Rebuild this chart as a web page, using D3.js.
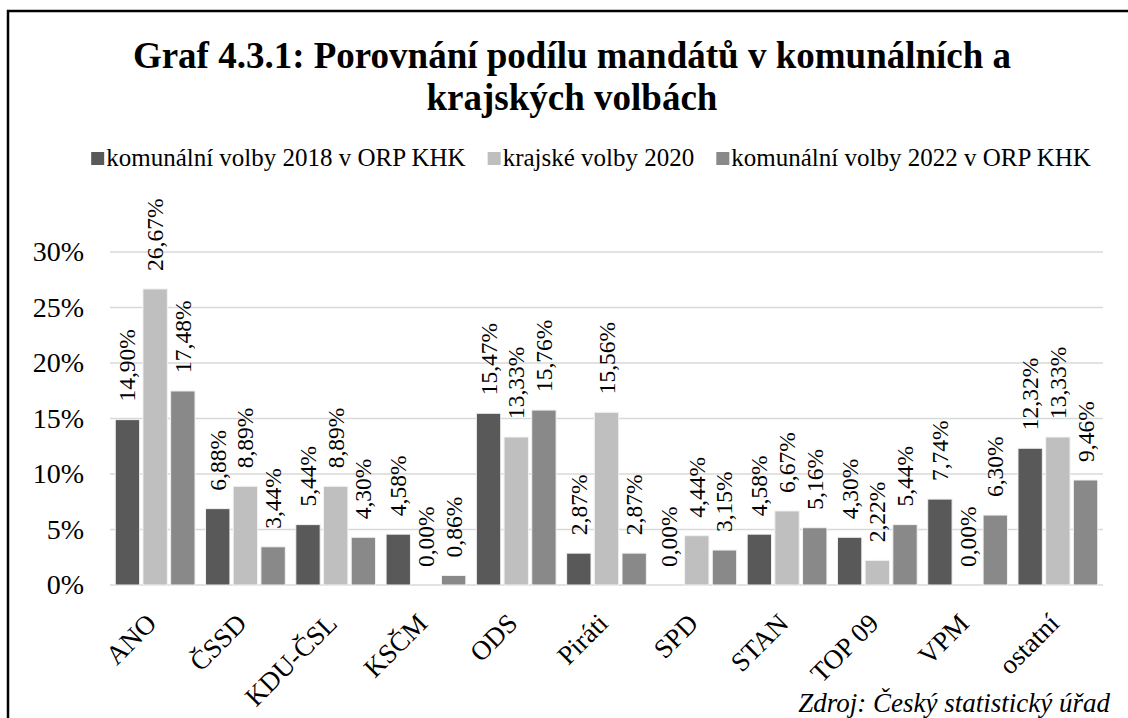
<!DOCTYPE html>
<html>
<head>
<meta charset="utf-8">
<script src="https://cdn.jsdelivr.net/npm/d3@7"></script>
<style>
  body { margin: 0; background: #fff; }
  text { font-family: "Liberation Serif", "Times New Roman", serif; }
</style>
</head>
<body>
<div id="chart"></div>
<script>
// data
const categories = ["ANO", "ČSSD", "KDU-ČSL", "KSČM", "ODS", "Piráti", "SPD", "STAN", "TOP 09", "VPM", "ostatní"];
const seriesNames = ["komunální volby 2018 v ORP KHK", "krajské volby 2020", "komunální volby 2022 v ORP KHK"];
const kom2018 = [14.90, 6.88, 5.44, 4.58, 15.47, 2.87, 0.00, 4.58, 4.30, 7.74, 12.32];
const kraj2020 = [26.67, 8.89, 8.89, 0.00, 13.33, 15.56, 4.44, 6.67, 2.22, 0.00, 13.33];
const kom2022 = [17.48, 3.44, 4.30, 0.86, 15.76, 2.87, 3.15, 5.16, 5.44, 6.30, 9.46];
const yTicks = [0, 5, 10, 15, 20, 25, 30];

const colors = ["#595959", "#bfbfbf", "#898989"];
const seriesValues = [kom2018, kraj2020, kom2022];

const W = 1128, H = 718;
const svg = d3.select("#chart").append("svg").attr("width", W).attr("height", H);

// frame (cut off at right and bottom)
svg.append("rect")
    .attr("x", 8).attr("y", 11)
    .attr("width", W + 20).attr("height", H + 20)
    .attr("fill", "none")
    .attr("stroke", "#000")
    .attr("stroke-width", 2.5);

// title
const title = svg.append("text")
    .attr("text-anchor", "middle")
    .attr("font-weight", "bold")
    .attr("font-size", 37)
    .attr("fill", "#000");
title.append("tspan").attr("x", 572).attr("y", 68).text("Graf 4.3.1: Porovnání podílu mandátů v komunálních a");
title.append("tspan").attr("x", 572).attr("y", 110).text("krajských volbách");

// scales
const x = d3.scaleBand().domain(categories).range([110, 1103]).padding(0);
const xs = d3.scaleBand().domain(d3.range(3)).range([0, x.bandwidth()]).paddingInner(0.12).paddingOuter(0.19);
const y = d3.scaleLinear().domain([0, 30]).range([585, 252]);

// grid
svg.append("g")
    .selectAll("line")
    .data(yTicks)
    .join("line")
    .attr("x1", 110).attr("x2", 1103)
    .attr("y1", d => y(d)).attr("y2", d => y(d))
    .attr("stroke", "#d9d9d9")
    .attr("stroke-width", 1.5);

// y axis labels
const yAxis = d3.axisLeft(y).tickValues(yTicks).tickFormat(d => d + "%").tickSize(0).tickPadding(0);
const gy = svg.append("g").attr("transform", "translate(84,0)").call(yAxis);
gy.select(".domain").remove();
gy.selectAll("text")
    .attr("font-size", 28)
    .attr("font-family", "Liberation Serif")
    .attr("fill", "#000");

// bars
const rows = [];
categories.forEach((c, i) => {
  seriesValues.forEach((vals, s) => rows.push({ cat: c, s: s, v: vals[i] }));
});

svg.append("g")
    .selectAll("rect")
    .data(rows)
    .join("rect")
    .attr("x", d => x(d.cat) + xs(d.s))
    .attr("width", xs.bandwidth())
    .attr("y", d => y(d.v))
    .attr("height", d => y(0) - y(d.v))
    .attr("fill", d => colors[d.s])
    .attr("stroke", "#f2f2f2")
    .attr("stroke-width", 1);

// data labels
svg.append("g")
    .selectAll("text")
    .data(rows)
    .join("text")
    .attr("transform", d => {
      const cx = x(d.cat) + xs(d.s) + xs.bandwidth() / 2;
      return `translate(${cx + 8},${y(d.v) - 18}) rotate(-90)`;
    })
    .attr("text-anchor", "start")
    .attr("font-size", 23.5)
    .attr("fill", "#000")
    .text(d => d.v.toFixed(2).replace(".", ",") + "%");

// x axis labels
const xAxis = d3.axisBottom(x).tickSize(0).tickPadding(0);
const gx = svg.append("g").attr("transform", "translate(0,585)").call(xAxis);
gx.select(".domain").remove();
gx.selectAll("text")
    .attr("font-size", 27)
    .attr("font-family", "Liberation Serif")
    .attr("fill", "#000")
    .attr("text-anchor", "end")
    .attr("dy", 0)
    .attr("transform", "translate(3,40) rotate(-45)");

// legend
const legend = svg.append("g");
let lx = 0;
seriesNames.forEach((name, i) => {
  const g = legend.append("g").attr("transform", `translate(${lx},0)`);
  g.append("rect").attr("x", 0).attr("y", -14).attr("width", 13).attr("height", 13).attr("fill", colors[i]);
  const t = g.append("text").attr("x", 15).attr("y", 0).attr("font-size", 25).attr("fill", "#000").text(name);
  lx += 15 + t.node().getComputedTextLength() + 22;
});
lx -= 22;
legend.attr("transform", `translate(${591 - lx / 2},166)`);

// source
svg.append("text")
    .attr("x", 1110).attr("y", 712)
    .attr("text-anchor", "end")
    .attr("font-style", "italic")
    .attr("font-size", 27)
    .attr("fill", "#000")
    .text("Zdroj: Český statistický úřad");
</script>
</body>
</html>
